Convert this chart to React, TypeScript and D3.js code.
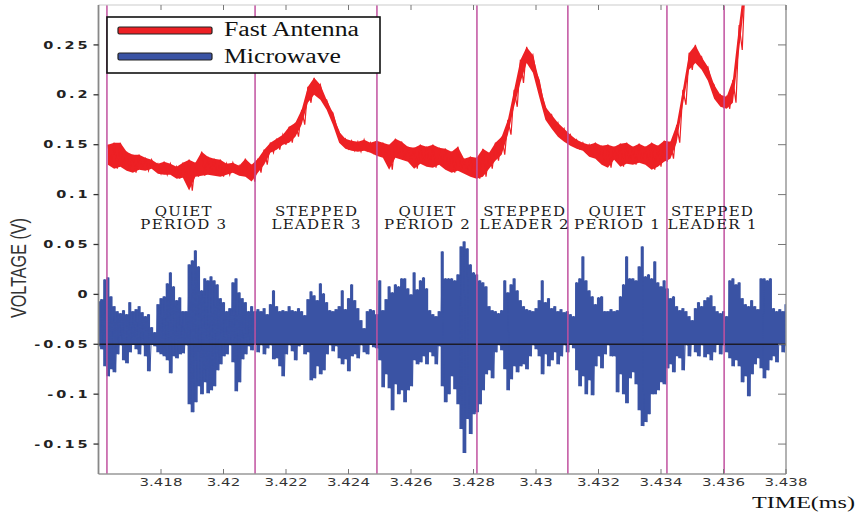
import * as d3 from 'd3';

// time axis (ms) and voltage axis (V)
const X_DOMAIN = [3.416, 3.438];
const Y_DOMAIN = [-0.18, 0.29];
const X_TICKS = [3.418, 3.42, 3.422, 3.424, 3.426, 3.428, 3.43, 3.432, 3.434, 3.436, 3.438];
const Y_TICKS = [-0.15, -0.1, -0.05, 0, 0.05, 0.1, 0.15, 0.2, 0.25];

// region boundaries (ms) and labels
const BOUNDARIES = [3.41627, 3.42101, 3.42491, 3.42811, 3.43102, 3.43419, 3.43602];
const LABEL_T = [3.41871, 3.42296, 3.42651, 3.42962, 3.43259, 3.43563];
const LABEL_TOP = ['QUIET', 'STEPPED', 'QUIET', 'STEPPED', 'QUIET', 'STEPPED'];
const LABEL_BOTTOM = ['PERIOD 3', 'LEADER 3', 'PERIOD 2', 'LEADER 2', 'PERIOD 1', 'LEADER 1'];
const BASELINE_V = -0.05;

// microwave: max / min per 0.1 us bin, in mV
const MW_T0 = 3.416;
const MW_DT = 0.0001;
const MW_HI = [
  -7, -5, 15, 17, -2, -12, -17, -19, -16, -20, -8, -17, -15, -12, -18, -22, -20, -33, -38, -10,
  -4, -2, 11, 22, 8, -6, -3, -17, -17, 30, 34, 44, 28, 4, 16, 14, 18, 14, 10, -4,
  -8, -17, -14, 12, 16, 2, -4, -8, -17, -12, -17, -15, -17, -14, -20,
  -10, 4, -12, -17, -16, -17, -12, -16, -17, -14, -17, -21, -5, 3, -1, -6, 11, 1, -8, -16,
  -17, -15, -12, 4, -15, -4, 10, -6, -14, -26, -34, -17, -15, -16, -20, 14, -16, -5, 8, 2,
  10, 8, 16, 16, 6, 0, 22, 5, 14, 17, 6, -16, -20, -22, -17,
  43, 16, 16, 16, 14, 20, 48, 53, 46, 30, 22, 20, 14, 12, 8, -12, -16, -17, -19, -16,
  14, 2, 10, 16, 4, -6, -12, -15, -16, -17, -14, -6, 14, -8, -4, -14, -12, -17, -15, -18,
  -17, -20, -22, 12, 16, 38, 14, 4, -2, -10, -3, -2, -17, -17, -15,
  -17, -16, -2, 10, 38, 16, 16, 14, 28, 48, 18, 20, 16, 33, 12, 8, 14, 6, -4, -2,
  -12, -16, -14, -17, -22, -26, -14, -8, -12, -6, -3, -1, -12, -17, -19, -17, -22, 14, 16, 10,
  12, -4, -10, -12, -6, -12, -15, 16, 16, 14, 16, -14, -17, -15, -17, -10,
];
const MW_LO = [
  -52, -55, -72, -82, -75, -78, -60, -51, -66, -69, -58, -50, -55, -60, -51, -62, -77, -50, -52, -58,
  -60, -62, -66, -79, -62, -64, -60, -59, -51, -110, -118, -108, -92, -100, -88, -99, -96, -92, -76, -70,
  -62, -60, -51, -68, -97, -88, -65, -60, -52, -56, -50, -58, -51, -60, -54,
  -51, -65, -64, -72, -82, -60, -51, -57, -66, -52, -50, -60, -58, -86, -84, -72, -80, -76, -60, -51,
  -57, -52, -64, -70, -65, -77, -62, -60, -64, -51, -58, -60, -50, -53, -54, -66, -93, -80, -94, -116,
  -90, -100, -96, -108, -96, -92, -66, -70, -68, -62, -70, -58, -62, -70, -52,
  -92, -108, -100, -82, -95, -110, -135, -159, -125, -140, -120, -118, -110, -96, -80, -76, -84, -58, -51, -56,
  -75, -96, -85, -72, -78, -72, -70, -75, -62, -51, -55, -62, -80, -60, -72, -66, -58, -70, -62, -51,
  -58, -50, -54, -76, -92, -82, -100, -86, -101, -72, -62, -74, -60, -51, -62,
  -62, -98, -80, -100, -109, -84, -78, -90, -116, -132, -128, -120, -100, -100, -96, -88, -90, -74, -70, -78,
  -62, -64, -76, -51, -62, -50, -58, -62, -51, -63, -60, -66, -58, -50, -60, -51, -58, -64, -72, -66,
  -72, -88, -82, -102, -80, -70, -64, -74, -84, -76, -66, -62, -68, -51, -58, -52,
];

// fast antenna: max / min per 0.2 us bin, in mV
const FA_T0 = 3.4163;
const FA_DT = 0.0002;
const FA_HI = [
  150, 152, 152, 143, 140, 140, 137, 135, 131, 133, 131, 128, 132, 135, 132, 143, 138, 136, 135, 131,
  132, 129, 136, 130, 136, 145,
  152, 156, 160, 168, 172, 185, 208, 217, 210, 195, 182, 163, 156, 154, 153, 155, 152, 154, 152, 150,
  156, 153, 148, 147, 150, 148, 150, 147,
  146, 143, 148, 136, 138, 137, 146, 142, 152, 158, 175, 205, 235, 248, 240, 215, 188, 180, 172, 166,
  160, 155, 152, 150, 152, 149, 150, 148,
  151, 152, 148, 151, 148, 152, 149, 154, 153, 170, 205, 242, 250, 238, 228, 210, 200, 198, 215, 270,
  320,
];
const FA_LO = [
  130, 126, 128, 124, 122, 125, 124, 126, 121, 120, 120, 116, 117, 104, 118, 119, 120, 119, 118, 120,
  122, 119, 118, 113, 122, 130,
  142, 145, 150, 152, 158, 170, 192, 200, 195, 185, 170, 152, 146, 144, 143, 144, 142, 139, 137, 125,
  137, 135, 133, 126, 131, 128, 127, 130,
  125, 122, 124, 121, 118, 116, 118, 126, 134, 140, 160, 188, 212, 232, 222, 198, 175, 166, 158, 153,
  149, 146, 144, 138, 136, 130, 127, 135,
  128, 131, 130, 132, 130, 125, 128, 133, 136, 152, 190, 225, 232, 225, 214, 196, 188, 186, 192, 245,
  300,
];

const SERIES = ['Fast Antenna', 'Microwave'];
const COLORS = ['#ed2024', '#3a53a4'];

const W = 860;
const H = 513;
const PLOT = { left: 98.5, right: 786, top: 5, bottom: 474 };

// one max and one min sample per bin, the min half a bin later
function zigzag(t0: number, dt: number, hi: number[], lo: number[]) {
  const pts: [number, number][] = [];
  hi.forEach((h, i) => {
    const t = t0 + i * dt;
    pts.push([t, h / 1000]);
    pts.push([t + dt / 2, lo[i] / 1000]);
  });
  return pts;
}

export default function App() {
  const x = d3.scaleLinear().domain(X_DOMAIN).range([PLOT.left, PLOT.right]);
  const y = d3.scaleLinear().domain(Y_DOMAIN).range([PLOT.bottom, PLOT.top]);
  const line = d3
    .line<[number, number]>()
    .x((d) => x(d[0]))
    .y((d) => y(d[1]));
  const envelope = (t0: number, dt: number, lo: number[], curve: d3.CurveFactory) =>
    d3
      .area<number>()
      .curve(curve)
      .x((_, i) => x(t0 + i * dt))
      .y0((_, i) => y(lo[i] / 1000))
      .y1((d) => y(d / 1000));

  const mwBand = envelope(MW_T0, MW_DT, MW_LO, d3.curveStep)(MW_HI) || '';
  const mwPath = line(zigzag(MW_T0, MW_DT, MW_HI, MW_LO)) || '';
  const faBand = envelope(FA_T0, FA_DT, FA_LO, d3.curveLinear)(FA_HI) || '';
  const faPath = line(zigzag(FA_T0, FA_DT, FA_HI, FA_LO)) || '';
  const fmt = (v: number) => String(+v.toFixed(3));
  const labelY = y(0.079);

  return (
    <svg
      width={W}
      height={H}
      style={{ position: 'absolute', left: 0, top: 0, background: '#fff' }}
    >
      <defs>
        <clipPath id="plot-clip">
          <rect
            x={PLOT.left}
            y={PLOT.top}
            width={PLOT.right - PLOT.left}
            height={PLOT.bottom - PLOT.top}
          />
        </clipPath>
      </defs>

      <g clipPath="url(#plot-clip)">
        <path d={mwBand} fill={COLORS[1]} stroke="none" />
        <path d={mwPath} fill="none" stroke={COLORS[1]} strokeWidth={1} />
        <line
          x1={PLOT.left}
          x2={PLOT.right}
          y1={y(BASELINE_V)}
          y2={y(BASELINE_V)}
          stroke="#1c1c28"
          strokeWidth={1.5}
        />
        <path d={faBand} fill={COLORS[0]} stroke="none" />
        <path d={faPath} fill="none" stroke={COLORS[0]} strokeWidth={1.2} />
        {BOUNDARIES.map((t, i) => (
          <line
            key={i}
            x1={x(t)}
            x2={x(t)}
            y1={PLOT.top}
            y2={PLOT.bottom}
            stroke="#c0509f"
            strokeWidth={1.5}
          />
        ))}
      </g>

      {/* region labels */}
      {LABEL_T.map((t, i) => (
        <g key={i} fontFamily="'DejaVu Serif', serif" fontSize={12} fill="#1a1a1a" letterSpacing={1}>
          <text transform={`translate(${x(t) + 0.6},${labelY}) scale(1.25,1)`} textAnchor="middle">
            {LABEL_TOP[i]}
          </text>
          <text
            transform={`translate(${x(t) + 0.6},${labelY + 13}) scale(1.25,1)`}
            textAnchor="middle"
          >
            {LABEL_BOTTOM[i]}
          </text>
        </g>
      ))}

      {/* legend */}
      <g>
        <rect x={107} y={17} width={273} height={56} fill="#fff" stroke="#111" strokeWidth={1.6} />
        {SERIES.map((s, i) => (
          <g key={s}>
            <rect
              x={118}
              y={27 + i * 26}
              width={94}
              height={7}
              rx={1.5}
              fill={COLORS[i]}
              stroke="#222"
              strokeWidth={1.2}
            />
            <text
              x={224}
              y={36 + i * 27}
              fontFamily="'Liberation Serif', serif"
              fontSize={20}
              fill="#111"
              textLength={i === 0 ? 135 : 117}
              lengthAdjust="spacingAndGlyphs"
            >
              {s}
            </text>
          </g>
        ))}
      </g>

      {/* frame */}
      <line x1={PLOT.left} x2={PLOT.right} y1={PLOT.top} y2={PLOT.top} stroke="#ccc" strokeWidth={1.2} />
      <line x1={PLOT.right} x2={PLOT.right} y1={PLOT.top} y2={PLOT.bottom} stroke="#999" strokeWidth={1.5} />
      <line x1={PLOT.left} x2={PLOT.right} y1={PLOT.bottom} y2={PLOT.bottom} stroke="#999" strokeWidth={1.5} />
      <line x1={PLOT.left} x2={PLOT.left} y1={PLOT.top} y2={PLOT.bottom} stroke="#888" strokeWidth={1.8} />

      {/* x ticks */}
      {X_TICKS.map((v) => (
        <g key={v}>
          <line x1={x(v)} x2={x(v)} y1={PLOT.bottom} y2={PLOT.bottom - 5} stroke="#777" />
          <line x1={x(v)} x2={x(v)} y1={PLOT.top} y2={PLOT.top + 5} stroke="#777" />
          <g transform={`translate(${x(v)},${PLOT.bottom + 12}) scale(1.5,1)`}>
            <text
              textAnchor="middle"
              fontFamily="'DejaVu Sans', sans-serif"
              fontSize={10}
              fill="#333"
            >
              {fmt(v)}
            </text>
          </g>
        </g>
      ))}

      {/* y ticks */}
      {Y_TICKS.map((v) => (
        <g key={v}>
          <line x1={PLOT.left - 5} x2={PLOT.left} y1={y(v)} y2={y(v)} stroke="#333" strokeWidth={1.3} />
          <line x1={PLOT.right - 8} x2={PLOT.right} y1={y(v)} y2={y(v)} stroke="#777" />
          <g transform={`translate(${PLOT.left - 8},${y(v) + 3.6}) scale(1.45,1)`}>
            <text
              textAnchor="end"
              fontFamily="'DejaVu Sans', sans-serif"
              fontSize={10}
              fontWeight={600}
              letterSpacing={2}
              fill="#222"
            >
              {fmt(v)}
            </text>
          </g>
        </g>
      ))}

      {/* axis titles */}
      <text
        transform="translate(26,268) rotate(-90)"
        textAnchor="middle"
        fontFamily="'Liberation Sans Narrow', 'Liberation Sans', sans-serif"
        fontSize={22}
        fill="#333"
        textLength={100}
        lengthAdjust="spacingAndGlyphs"
      >
        VOLTAGE (V)
      </text>
      <text
        x={752}
        y={508}
        fontFamily="'Liberation Serif', serif"
        fontSize={17}
        fill="#111"
        textLength={103}
        lengthAdjust="spacingAndGlyphs"
      >
        TIME(ms)
      </text>
    </svg>
  );
}
